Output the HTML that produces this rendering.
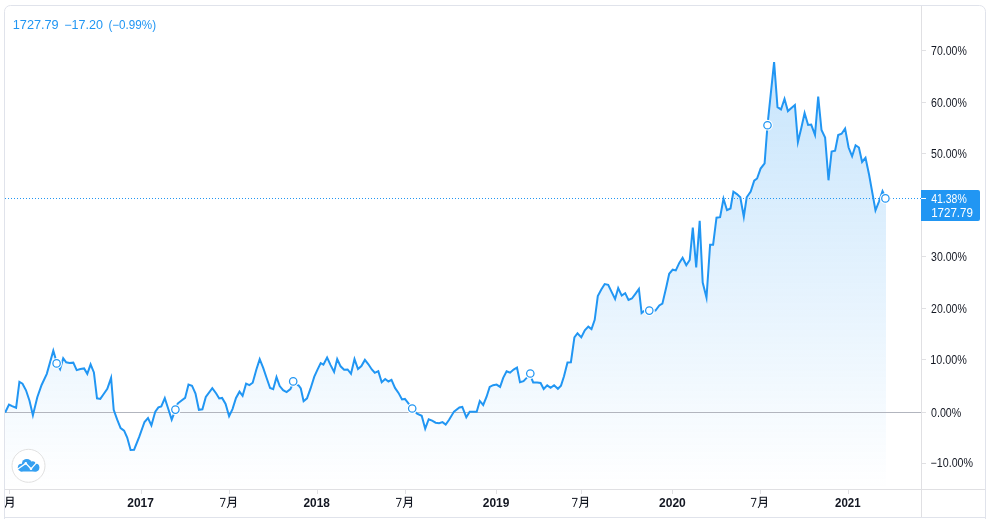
<!DOCTYPE html>
<html><head><meta charset="utf-8"><style>
html,body{margin:0;padding:0;background:#fff;}
body{width:988px;height:519px;overflow:hidden;position:relative;font-family:"Liberation Sans",sans-serif;}
svg{position:absolute;left:0;top:0;will-change:transform;}
</style></head><body>
<svg width="988" height="519" viewBox="0 0 988 519" font-family="Liberation Sans, sans-serif">
<defs>
<linearGradient id="g" x1="0" y1="6" x2="0" y2="489" gradientUnits="userSpaceOnUse">
<stop offset="0" stop-color="#2196f3" stop-opacity="0.28"/>
<stop offset="1" stop-color="#2196f3" stop-opacity="0"/>
</linearGradient>
<clipPath id="pane"><rect x="5" y="6" width="916" height="483"/></clipPath>
<clipPath id="tclip"><rect x="5" y="490" width="916" height="27"/></clipPath>
</defs>
<path d="M4.5 525 V11.5 A6 6 0 0 1 10.5 5.5 H979.5 A6 6 0 0 1 985.5 11.5 V525" fill="none" stroke="#e0e3eb" stroke-width="1"/>
<line x1="5" y1="517.5" x2="985" y2="517.5" stroke="#e0e3eb" stroke-width="1"/>
<line x1="921.5" y1="6" x2="921.5" y2="517" stroke="#e0e0e3" stroke-width="1"/>
<line x1="5" y1="489.5" x2="985" y2="489.5" stroke="#e0e0e3" stroke-width="1"/>
<g clip-path="url(#pane)">
<path d="M5.2 412.5 L9 404.57 L12.1 406.2 L16.1 407.79 L19.4 381.92 L22.5 383.7 L26 390.3 L29.5 400.7 L32.9 415.28 L37.3 397.2 L41.6 385 L46.8 373.8 L53.3 350.74 L55.2 357.3 L56.6 363.4 L60.1 369.2 L63.2 358.16 L66.2 362.3 L69.5 362.99 L73.3 362.66 L76.7 370.09 L80.4 369 L84.1 368.4 L87.3 373.83 L90.6 364.41 L93.9 372.4 L97 398.3 L100.3 398.9 L103.7 394 L107.3 388.9 L111.1 377.85 L113.7 409.9 L117.1 419.4 L120.6 428.1 L124.1 430.7 L127.2 437.6 L130.6 449.9 L134.1 449.73 L139.3 436.7 L144.5 422 L148 418.01 L151.4 425.34 L155.3 411.6 L158.4 407.3 L161.3 406.4 L164.8 398.08 L168.3 409 L171.7 419.66 L175.5 409.6 L177.7 403.5 L181.6 400.5 L185.1 397.9 L188.5 384.5 L192 385.7 L195.5 393.5 L198.9 409.8 L202.4 409.3 L205.8 397 L212.3 388.1 L216.2 393.5 L219.2 398.48 L222.1 397.92 L225.6 403.9 L229.1 416.27 L232.5 409.1 L236 397.9 L239.5 391.64 L242.6 395.87 L246.1 383.66 L249.4 385.06 L252.7 382.7 L256.3 369.7 L259.7 359.23 L263.2 367.9 L266.7 378.3 L270.1 388 L273.2 389.25 L276.5 377.13 L279.7 386.1 L283.1 390.1 L286.6 392.01 L290.4 389.1 L293.2 382.76 L298.7 385.5 L300.8 388.5 L303.6 401.17 L307 398.3 L310.5 388.7 L314.3 376.6 L317.5 369.6 L320.7 363.17 L323.4 364.64 L327.1 357.56 L330.6 365.1 L334.1 371.86 L337.2 359.01 L340.6 366.3 L344.1 369.76 L347.6 369.44 L351 373.76 L354.5 359.12 L358 369 L361.4 366.1 L364.9 359.89 L368.4 364.3 L371.8 369.5 L374.8 372.79 L378.3 371.18 L381.7 382.28 L385.2 379.01 L388.4 381.51 L391.5 379.89 L395 387.9 L398.5 392.9 L402 399.47 L404.9 398.9 L408.4 403.3 L412.2 408.5 L417.1 413.7 L421.7 415.8 L425.2 428.64 L428.7 419.23 L432.1 420.7 L435.6 422.7 L439.1 423.27 L442.5 422.12 L445.7 424.58 L449.1 419.8 L454 411.6 L459.4 407.54 L462.3 407 L466.3 417.26 L469.7 411.7 L476.7 411.7 L479.8 400.97 L483.2 405 L486.5 397 L489.7 386.9 L493.1 385.2 L496.6 384.56 L500.1 386.86 L503.2 377.9 L506.6 371.26 L510.1 372.65 L513.6 369.6 L517 367.5 L520 382.21 L523.5 381.1 L526.9 377.6 L530 374.79 L533.2 382.5 L537.1 382.6 L540.6 383 L543.7 389.01 L547.2 385.41 L550.6 387.86 L554.1 385.21 L557.9 388.8 L561 385.6 L564 376.3 L567.5 362.5 L570.9 362.2 L574.4 337.3 L577.5 333.25 L581.3 337.36 L584.8 330.3 L588.3 326.64 L591.5 329.15 L594.7 319.8 L597.8 296 L601.3 289.5 L604.7 284.03 L608.2 284.8 L611.7 292.1 L615.1 299.02 L618.2 288.07 L621.7 295.6 L625.2 293.18 L628.5 299.92 L631.9 298.5 L635.4 293.8 L638.9 288.98 L641.6 313.08 L644 310.97 L649.3 310.6 L655.5 310.6 L659.3 305.4 L662.4 303.7 L666.3 287 L669.2 273.8 L672.7 269.71 L675.8 270.44 L679.3 262.9 L682.6 257.74 L686.3 265.27 L689.7 260 L692.8 227.7 L696.2 267.41 L699.7 220.87 L702.7 282.5 L706.5 297.63 L710.1 244.7 L713.1 244.7 L716.5 217.7 L720.1 217.2 L723.5 198.72 L727 210.19 L730.5 208.5 L733.4 191.7 L736.9 194.1 L740.3 197.3 L743.8 216.74 L746.7 197.3 L750.7 191.6 L754.2 180.7 L757.1 178.5 L760.6 168.6 L764.6 163.4 L767.5 125.2 L774.1 62.1 L777.5 107.1 L781 109.44 L784.5 98.84 L787.9 111.07 L791.4 107.9 L794.9 104.93 L797.9 142.09 L801.3 128 L804.6 113.02 L808.1 124.92 L811.2 124.58 L815 134.91 L818.2 96.5 L821.5 130 L825.1 137.5 L828.5 180.29 L831.6 151.6 L835.1 150.7 L838.2 135.04 L841.6 133.78 L845.1 128.51 L848.6 147.5 L852.1 156.32 L855.6 145.28 L858.9 147.5 L862.1 161.98 L865.5 157.84 L869.1 174.7 L875.5 210.36 L879 201.5 L882.5 191.06 L886 198.4 L886 489 L5.2 489 Z" fill="url(#g)" stroke="none"/>
<line x1="5" y1="412.5" x2="921" y2="412.5" stroke="#b2b5be" stroke-width="1"/>
<line x1="5" y1="198.5" x2="921" y2="198.5" stroke="#2196f3" stroke-width="1" stroke-dasharray="1 2"/>
<path d="M5.2 412.5 L9 404.57 L12.1 406.2 L16.1 407.79 L19.4 381.92 L22.5 383.7 L26 390.3 L29.5 400.7 L32.9 415.28 L37.3 397.2 L41.6 385 L46.8 373.8 L53.3 350.74 L55.2 357.3 L56.6 363.4 L60.1 369.2 L63.2 358.16 L66.2 362.3 L69.5 362.99 L73.3 362.66 L76.7 370.09 L80.4 369 L84.1 368.4 L87.3 373.83 L90.6 364.41 L93.9 372.4 L97 398.3 L100.3 398.9 L103.7 394 L107.3 388.9 L111.1 377.85 L113.7 409.9 L117.1 419.4 L120.6 428.1 L124.1 430.7 L127.2 437.6 L130.6 449.9 L134.1 449.73 L139.3 436.7 L144.5 422 L148 418.01 L151.4 425.34 L155.3 411.6 L158.4 407.3 L161.3 406.4 L164.8 398.08 L168.3 409 L171.7 419.66 L175.5 409.6 L177.7 403.5 L181.6 400.5 L185.1 397.9 L188.5 384.5 L192 385.7 L195.5 393.5 L198.9 409.8 L202.4 409.3 L205.8 397 L212.3 388.1 L216.2 393.5 L219.2 398.48 L222.1 397.92 L225.6 403.9 L229.1 416.27 L232.5 409.1 L236 397.9 L239.5 391.64 L242.6 395.87 L246.1 383.66 L249.4 385.06 L252.7 382.7 L256.3 369.7 L259.7 359.23 L263.2 367.9 L266.7 378.3 L270.1 388 L273.2 389.25 L276.5 377.13 L279.7 386.1 L283.1 390.1 L286.6 392.01 L290.4 389.1 L293.2 382.76 L298.7 385.5 L300.8 388.5 L303.6 401.17 L307 398.3 L310.5 388.7 L314.3 376.6 L317.5 369.6 L320.7 363.17 L323.4 364.64 L327.1 357.56 L330.6 365.1 L334.1 371.86 L337.2 359.01 L340.6 366.3 L344.1 369.76 L347.6 369.44 L351 373.76 L354.5 359.12 L358 369 L361.4 366.1 L364.9 359.89 L368.4 364.3 L371.8 369.5 L374.8 372.79 L378.3 371.18 L381.7 382.28 L385.2 379.01 L388.4 381.51 L391.5 379.89 L395 387.9 L398.5 392.9 L402 399.47 L404.9 398.9 L408.4 403.3 L412.2 408.5 L417.1 413.7 L421.7 415.8 L425.2 428.64 L428.7 419.23 L432.1 420.7 L435.6 422.7 L439.1 423.27 L442.5 422.12 L445.7 424.58 L449.1 419.8 L454 411.6 L459.4 407.54 L462.3 407 L466.3 417.26 L469.7 411.7 L476.7 411.7 L479.8 400.97 L483.2 405 L486.5 397 L489.7 386.9 L493.1 385.2 L496.6 384.56 L500.1 386.86 L503.2 377.9 L506.6 371.26 L510.1 372.65 L513.6 369.6 L517 367.5 L520 382.21 L523.5 381.1 L526.9 377.6 L530 374.79 L533.2 382.5 L537.1 382.6 L540.6 383 L543.7 389.01 L547.2 385.41 L550.6 387.86 L554.1 385.21 L557.9 388.8 L561 385.6 L564 376.3 L567.5 362.5 L570.9 362.2 L574.4 337.3 L577.5 333.25 L581.3 337.36 L584.8 330.3 L588.3 326.64 L591.5 329.15 L594.7 319.8 L597.8 296 L601.3 289.5 L604.7 284.03 L608.2 284.8 L611.7 292.1 L615.1 299.02 L618.2 288.07 L621.7 295.6 L625.2 293.18 L628.5 299.92 L631.9 298.5 L635.4 293.8 L638.9 288.98 L641.6 313.08 L644 310.97 L649.3 310.6 L655.5 310.6 L659.3 305.4 L662.4 303.7 L666.3 287 L669.2 273.8 L672.7 269.71 L675.8 270.44 L679.3 262.9 L682.6 257.74 L686.3 265.27 L689.7 260 L692.8 227.7 L696.2 267.41 L699.7 220.87 L702.7 282.5 L706.5 297.63 L710.1 244.7 L713.1 244.7 L716.5 217.7 L720.1 217.2 L723.5 198.72 L727 210.19 L730.5 208.5 L733.4 191.7 L736.9 194.1 L740.3 197.3 L743.8 216.74 L746.7 197.3 L750.7 191.6 L754.2 180.7 L757.1 178.5 L760.6 168.6 L764.6 163.4 L767.5 125.2 L774.1 62.1 L777.5 107.1 L781 109.44 L784.5 98.84 L787.9 111.07 L791.4 107.9 L794.9 104.93 L797.9 142.09 L801.3 128 L804.6 113.02 L808.1 124.92 L811.2 124.58 L815 134.91 L818.2 96.5 L821.5 130 L825.1 137.5 L828.5 180.29 L831.6 151.6 L835.1 150.7 L838.2 135.04 L841.6 133.78 L845.1 128.51 L848.6 147.5 L852.1 156.32 L855.6 145.28 L858.9 147.5 L862.1 161.98 L865.5 157.84 L869.1 174.7 L875.5 210.36 L879 201.5 L882.5 191.06 L886 198.4" fill="none" stroke="#2196f3" stroke-width="2" stroke-linejoin="miter" stroke-miterlimit="10"/>
<circle cx="56.6" cy="363.4" r="5.4" fill="#fff"/>
<circle cx="56.6" cy="363.4" r="3.7" fill="#fff" stroke="#2196f3" stroke-width="1.25"/>
<circle cx="175.4" cy="409.6" r="5.4" fill="#fff"/>
<circle cx="175.4" cy="409.6" r="3.7" fill="#fff" stroke="#2196f3" stroke-width="1.25"/>
<circle cx="293.2" cy="381.4" r="5.4" fill="#fff"/>
<circle cx="293.2" cy="381.4" r="3.7" fill="#fff" stroke="#2196f3" stroke-width="1.25"/>
<circle cx="412.2" cy="408.5" r="5.4" fill="#fff"/>
<circle cx="412.2" cy="408.5" r="3.7" fill="#fff" stroke="#2196f3" stroke-width="1.25"/>
<circle cx="530.3" cy="373.5" r="5.4" fill="#fff"/>
<circle cx="530.3" cy="373.5" r="3.7" fill="#fff" stroke="#2196f3" stroke-width="1.25"/>
<circle cx="649.3" cy="310.6" r="5.4" fill="#fff"/>
<circle cx="649.3" cy="310.6" r="3.7" fill="#fff" stroke="#2196f3" stroke-width="1.25"/>
<circle cx="767.5" cy="125.2" r="5.4" fill="#fff"/>
<circle cx="767.5" cy="125.2" r="3.7" fill="#fff" stroke="#2196f3" stroke-width="1.25"/>
<circle cx="885.4" cy="198.4" r="5.4" fill="#fff"/>
<circle cx="885.4" cy="198.4" r="3.7" fill="#fff" stroke="#2196f3" stroke-width="1.25"/>
<circle cx="28.5" cy="465.8" r="16.5" fill="#fff" stroke="#e0e0e0" stroke-width="1"/>
<g fill="#35a0f1"><circle cx="26.8" cy="463.8" r="4.9"/><circle cx="21.6" cy="467.6" r="3.8"/><circle cx="35.4" cy="467.4" r="4"/><circle cx="32.6" cy="464.2" r="3"/><rect x="20" y="466" width="17" height="5.5" rx="1"/></g>
<path d="M17.5 469.2 L25.8 463.4 L31 468.8 L36.8 462.4" fill="none" stroke="#fff" stroke-width="1.25"/>
<circle cx="25.8" cy="463.4" r="1.3" fill="#fff"/><circle cx="31" cy="468.8" r="1.3" fill="#fff"/>
</g>
<line x1="922" y1="50.5" x2="926" y2="50.5" stroke="#e0e0e3" stroke-width="1"/>
<line x1="922" y1="102.5" x2="926" y2="102.5" stroke="#e0e0e3" stroke-width="1"/>
<line x1="922" y1="153.5" x2="926" y2="153.5" stroke="#e0e0e3" stroke-width="1"/>
<line x1="922" y1="256.5" x2="926" y2="256.5" stroke="#e0e0e3" stroke-width="1"/>
<line x1="922" y1="308.5" x2="926" y2="308.5" stroke="#e0e0e3" stroke-width="1"/>
<line x1="922" y1="359.5" x2="926" y2="359.5" stroke="#e0e0e3" stroke-width="1"/>
<line x1="922" y1="463.5" x2="926" y2="463.5" stroke="#e0e0e3" stroke-width="1"/>
<line x1="922" y1="412.5" x2="926" y2="412.5" stroke="#e0e0e3" stroke-width="1"/>
<path d="M921 190 H978 A2 2 0 0 1 980 192 V219 A2 2 0 0 1 978 221 H921 Z" fill="#2196f3"/>
<line x1="921" y1="198.5" x2="926" y2="198.5" stroke="#fff" stroke-width="1"/>
<text x="12.74" y="29" font-size="12" fill="#2196f3" textLength="45.97" lengthAdjust="spacingAndGlyphs">1727.79</text>
<text x="64.25" y="29" font-size="12" fill="#2196f3" textLength="38.8" lengthAdjust="spacingAndGlyphs">−17.20</text>
<text x="108.4" y="29" font-size="12" fill="#2196f3" textLength="47.63" lengthAdjust="spacingAndGlyphs">(−0.99%)</text>
<text x="931.1" y="55" font-size="12" fill="#131722" textLength="35.64" lengthAdjust="spacingAndGlyphs">70.00%</text>
<text x="931.1" y="107" font-size="12" fill="#131722" textLength="35.64" lengthAdjust="spacingAndGlyphs">60.00%</text>
<text x="931.1" y="158" font-size="12" fill="#131722" textLength="35.64" lengthAdjust="spacingAndGlyphs">50.00%</text>
<text x="931.1" y="261" font-size="12" fill="#131722" textLength="35.64" lengthAdjust="spacingAndGlyphs">30.00%</text>
<text x="931.1" y="313" font-size="12" fill="#131722" textLength="35.64" lengthAdjust="spacingAndGlyphs">20.00%</text>
<text x="930.2" y="364" font-size="12" fill="#131722" textLength="36.53" lengthAdjust="spacingAndGlyphs">10.00%</text>
<text x="931.1" y="417" font-size="12" fill="#131722" textLength="30.13" lengthAdjust="spacingAndGlyphs">0.00%</text>
<text x="930.61" y="467" font-size="12" fill="#131722" textLength="42.44" lengthAdjust="spacingAndGlyphs">−10.00%</text>
<text x="931.2" y="203" font-size="12" fill="#fff" textLength="35.54" lengthAdjust="spacingAndGlyphs">41.38%</text>
<text x="931.14" y="217" font-size="12" fill="#fff" textLength="41.84" lengthAdjust="spacingAndGlyphs">1727.79</text>
<text x="127.3" y="507" font-size="12" font-weight="bold" fill="#131722" textLength="26.6" lengthAdjust="spacingAndGlyphs">2017</text>
<text x="303.5" y="507" font-size="12" font-weight="bold" fill="#131722" textLength="26.31" lengthAdjust="spacingAndGlyphs">2018</text>
<text x="482.8" y="507" font-size="12" font-weight="bold" fill="#131722" textLength="26.6" lengthAdjust="spacingAndGlyphs">2019</text>
<text x="659.1" y="507" font-size="12" font-weight="bold" fill="#131722" textLength="26.7" lengthAdjust="spacingAndGlyphs">2020</text>
<text x="835.1" y="507" font-size="12" font-weight="bold" fill="#131722" textLength="25.52" lengthAdjust="spacingAndGlyphs">2021</text>
<line x1="9.5" y1="490" x2="9.5" y2="494" stroke="#e0e0e3" stroke-width="1"/>
<line x1="141.5" y1="490" x2="141.5" y2="494" stroke="#e0e0e3" stroke-width="1"/>
<line x1="229.5" y1="490" x2="229.5" y2="494" stroke="#e0e0e3" stroke-width="1"/>
<line x1="317.5" y1="490" x2="317.5" y2="494" stroke="#e0e0e3" stroke-width="1"/>
<line x1="405.5" y1="490" x2="405.5" y2="494" stroke="#e0e0e3" stroke-width="1"/>
<line x1="496.5" y1="490" x2="496.5" y2="494" stroke="#e0e0e3" stroke-width="1"/>
<line x1="581.5" y1="490" x2="581.5" y2="494" stroke="#e0e0e3" stroke-width="1"/>
<line x1="672.5" y1="490" x2="672.5" y2="494" stroke="#e0e0e3" stroke-width="1"/>
<line x1="760.5" y1="490" x2="760.5" y2="494" stroke="#e0e0e3" stroke-width="1"/>
<line x1="848.5" y1="490" x2="848.5" y2="494" stroke="#e0e0e3" stroke-width="1"/>
<g clip-path="url(#tclip)" fill="none" stroke="#131722" stroke-width="1.1"><path d="M-2.5 498.4 H2.7 L-0.8 507" stroke-width="1"/><path d="M6.8 503.5 V497.3 H13 V506.3 Q13 507.3 10.6 507.3"/><path d="M6.8 500.4 H13 M6.8 503.4 H13"/><path d="M6.8 503 Q6.4 506 4.6 507.8"/></g>
<g clip-path="url(#tclip)" fill="none" stroke="#131722" stroke-width="1.1"><path d="M220 498.4 H225.2 L221.7 507" stroke-width="1"/><path d="M229.3 503.5 V497.3 H235.5 V506.3 Q235.5 507.3 233.1 507.3"/><path d="M229.3 500.4 H235.5 M229.3 503.4 H235.5"/><path d="M229.3 503 Q228.9 506 227.1 507.8"/></g>
<g clip-path="url(#tclip)" fill="none" stroke="#131722" stroke-width="1.1"><path d="M396 498.4 H401.2 L397.7 507" stroke-width="1"/><path d="M405.3 503.5 V497.3 H411.5 V506.3 Q411.5 507.3 409.1 507.3"/><path d="M405.3 500.4 H411.5 M405.3 503.4 H411.5"/><path d="M405.3 503 Q404.9 506 403.1 507.8"/></g>
<g clip-path="url(#tclip)" fill="none" stroke="#131722" stroke-width="1.1"><path d="M572 498.4 H577.2 L573.7 507" stroke-width="1"/><path d="M581.3 503.5 V497.3 H587.5 V506.3 Q587.5 507.3 585.1 507.3"/><path d="M581.3 500.4 H587.5 M581.3 503.4 H587.5"/><path d="M581.3 503 Q580.9 506 579.1 507.8"/></g>
<g clip-path="url(#tclip)" fill="none" stroke="#131722" stroke-width="1.1"><path d="M750.9 498.4 H756.1 L752.6 507" stroke-width="1"/><path d="M760.2 503.5 V497.3 H766.4 V506.3 Q766.4 507.3 764 507.3"/><path d="M760.2 500.4 H766.4 M760.2 503.4 H766.4"/><path d="M760.2 503 Q759.8 506 758 507.8"/></g>
</svg>
</body></html>
